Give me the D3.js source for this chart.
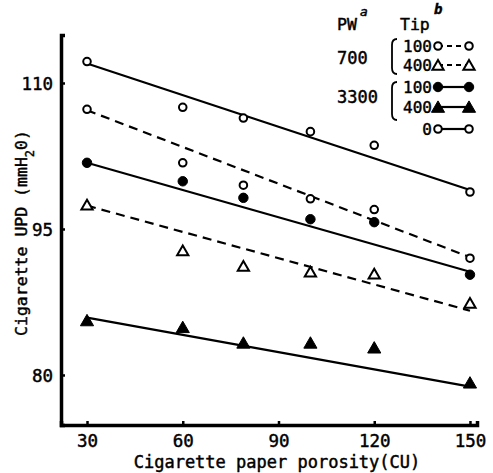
<!DOCTYPE html>
<html>
<head>
<meta charset="utf-8">
<script src="https://cdn.jsdelivr.net/npm/d3@7"></script>
<style>
  body { margin: 0; background: #fff; }
  text { font-family: "DejaVu Sans Mono", monospace; fill: #000; stroke: #000; stroke-width: 0.45px; }
</style>
</head>
<body>
<div class="chart"></div>
<script>
// porosity values (CU)
var porosity = [30, 60, 79, 100, 120, 150];

// cigarette UPD (mmH2O) for each PW / tip combination
var pw700tip100 = [107.3, 101.8, 99.5, 98.1, 97.0, 92.0];
var pw700tip400 = [97.5, 92.8, 91.2, 90.6, 90.4, 87.4];
var pw3300tip100 = [101.8, 99.9, 98.2, 96.0, 95.7, 90.3];
var pw3300tip400 = [85.6, 84.9, 83.3, 83.3, 82.8, 79.2];
var tip0 = [112.2, 107.5, 106.4, 105.0, 103.6, 98.8];

// fitted lines, value at porosity 30 and 150
var fitEnds = [30, 150];
var fit700tip100 = [107.2, 92.1];
var fit700tip400 = [97.4, 86.6];
var fit3300tip100 = [101.8, 90.6];
var fit3300tip400 = [85.9, 78.8];
var fitTip0 = [112.0, 99.0];

var xTicks = [30, 60, 90, 120, 150];
var yTicks = [80, 95, 110];

var series = [
  { values: tip0, fit: fitTip0, shape: "circle", filled: false, dashed: false },
  { values: pw700tip100, fit: fit700tip100, shape: "circle", filled: false, dashed: true },
  { values: pw3300tip100, fit: fit3300tip100, shape: "circle", filled: true, dashed: false },
  { values: pw700tip400, fit: fit700tip400, shape: "triangle", filled: false, dashed: true },
  { values: pw3300tip400, fit: fit3300tip400, shape: "triangle", filled: true, dashed: false }
];

var svg = d3.select(".chart").append("svg")
  .attr("width", 493)
  .attr("height", 473);

var x = d3.scaleLinear().domain([21.85, 152.2]).range([61, 477]);
var y = d3.scaleLinear().domain([74.86, 114.93]).range([425, 35]);

function symbolPath(s) {
  var size = s.shape === "circle" ? (s.filled ? 70 : 45) : (s.filled ? 75 : 55);
  var type = s.shape === "circle" ? d3.symbolCircle : d3.symbolTriangle;
  return d3.symbol().type(type).size(size)();
}

function drawMarker(g, s, cx, cy) {
  var yOff = s.shape === "triangle" ? 1.5 : 0;
  g.append("path")
    .attr("d", symbolPath(s))
    .attr("transform", "translate(" + cx + "," + (cy + yOff) + ")")
    .attr("fill", s.filled ? "#000" : "#fff")
    .attr("stroke", "#000")
    .attr("stroke-width", s.filled ? 1 : 2);
}

// axes
var xAxis = svg.append("g")
  .attr("transform", "translate(0,425)")
  .call(d3.axisBottom(x).tickValues(xTicks).tickSize(-4).tickPadding(10).tickFormat(d3.format("d")));
var yAxis = svg.append("g")
  .attr("transform", "translate(61,0)")
  .call(d3.axisLeft(y).tickValues(yTicks).tickSize(-4).tickPadding(8).tickFormat(d3.format("d")));

[xAxis, yAxis].forEach(function (a) {
  a.select(".domain").attr("stroke-width", 3.5).attr("stroke", "#000");
  a.selectAll(".tick line").attr("stroke-width", 2.5).attr("stroke", "#000");
  a.selectAll(".tick text")
    .style("font-family", "'DejaVu Sans Mono', monospace")
    .style("font-size", "17.5px")
    .attr("fill", "#000");
});
yAxis.selectAll(".tick text").attr("dy", "0.35em");

// axis titles
svg.append("text")
  .attr("x", 277)
  .attr("y", 468)
  .attr("text-anchor", "middle")
  .style("font-size", "17px")
  .text("Cigarette paper porosity(CU)");

var yTitle = svg.append("text")
  .attr("transform", "translate(27,233) rotate(-90)")
  .attr("text-anchor", "middle")
  .style("font-size", "16.5px");
yTitle.append("tspan").text("Cigarette UPD (mmH");
yTitle.append("tspan").attr("baseline-shift", "sub").style("font-size", "12px").text("2");
yTitle.append("tspan").text("0)");

// fitted lines
svg.selectAll(".fit")
  .data(series)
  .enter()
  .append("line")
  .attr("class", "fit")
  .attr("x1", x(fitEnds[0]))
  .attr("x2", x(fitEnds[1]))
  .attr("y1", function (d) { return y(d.fit[0]); })
  .attr("y2", function (d) { return y(d.fit[1]); })
  .attr("stroke", "#000")
  .attr("stroke-width", 2.2)
  .attr("stroke-dasharray", function (d) { return d.dashed ? "9,6" : null; });

// points
var points = svg.append("g");
series.forEach(function (s) {
  s.values.forEach(function (v, i) {
    drawMarker(points, s, x(porosity[i]), y(v));
  });
});

// legend
var legend = svg.append("g");
var legendRows = [
  { label: "100", s: series[1], yy: 46 },
  { label: "400", s: series[3], yy: 65 },
  { label: "100", s: series[2], yy: 87 },
  { label: "400", s: series[4], yy: 107 },
  { label: "0", s: series[0], yy: 129 }
];
var pwLabels = [{ text: "700", yy: 64 }, { text: "3300", yy: 103 }];

legend.append("text").attr("x", 337).attr("y", 30).style("font-size", "16.5px").text("PW");
legend.append("text").attr("x", 360).attr("y", 16).style("font-size", "13px").style("font-style", "italic").text("a");
legend.append("text").attr("x", 400).attr("y", 30).style("font-size", "16.5px").text("Tip");
legend.append("text").attr("x", 434).attr("y", 14).style("font-size", "14px").style("font-style", "italic").style("font-weight", "bold").text("b");

pwLabels.forEach(function (p) {
  legend.append("text").attr("x", 337).attr("y", p.yy).style("font-size", "17px").text(p.text);
});

// brackets
[[39, 74], [82, 120]].forEach(function (b) {
  legend.append("path")
    .attr("d", "M397," + b[0] + " Q392," + b[0] + " 392," + (b[0] + 6) + " L392," + (b[1] - 6) + " Q392," + b[1] + " 397," + b[1])
    .attr("fill", "none")
    .attr("stroke", "#000")
    .attr("stroke-width", 1.8);
});

legendRows.forEach(function (r) {
  legend.append("text")
    .attr("x", 432)
    .attr("y", r.yy + 6)
    .attr("text-anchor", "end")
    .style("font-size", "16px")
    .text(r.label);
  legend.append("line")
    .attr("x1", 438).attr("x2", 469)
    .attr("y1", r.yy).attr("y2", r.yy)
    .attr("stroke", "#000")
    .attr("stroke-width", 2.2)
    .attr("stroke-dasharray", r.s.dashed ? "5,4" : null);
  drawMarker(legend, r.s, 438, r.yy);
  drawMarker(legend, r.s, 469, r.yy);
});
</script>
</body>
</html>
